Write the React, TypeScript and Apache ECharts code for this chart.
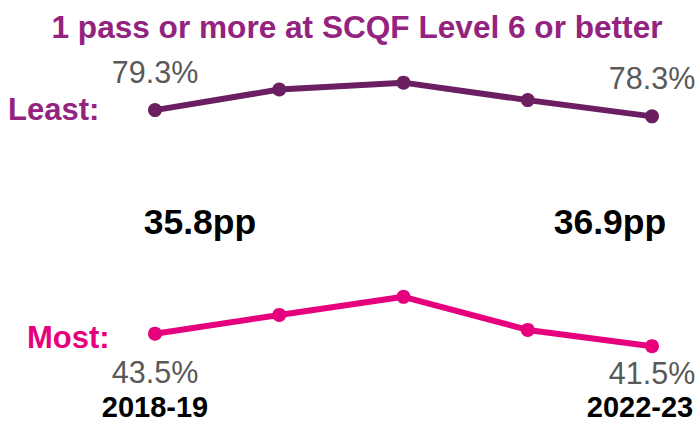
import React, { useEffect, useRef } from "react";
import * as echarts from "echarts";

const years = ["2018-19", "2019-20", "2020-21", "2021-22", "2022-23"];
const least = [79.3, 82.6, 83.7, 80.9, 78.3];
const most = [43.5, 46.5, 49.4, 44.1, 41.5];
const gapLabels = ["35.8pp", "36.9pp"];
const seriesNames = ["Least:", "Most:"];
const titleText = "1 pass or more at SCQF Level 6 or better";

const FONT = "'Liberation Sans', Arial, sans-serif";
const PURPLE_TEXT = "#93237F";
const PURPLE_LINE = "#6B1F62";
const PINK = "#E6007E";
const GREY = "#595959";

export default function App() {
  const ref = useRef<HTMLDivElement>(null);
  useEffect(() => {
    document.body.style.margin = "0";
    if (!ref.current) return;
    const chart = echarts.init(ref.current, null, { renderer: "svg" });
    const last = years.length - 1;
    const valueLabel = (pos: "top" | "bottom") => ({
      show: true,
      position: pos,
      distance: 16,
      color: GREY,
      fontFamily: FONT,
      fontSize: 30.5,
      formatter: (p: any) =>
        p.dataIndex === 0 || p.dataIndex === last ? p.value.toFixed(1) + "%" : "",
    });
    const mostData = most.map((v, i) =>
      i === last ? { value: v, label: { offset: [0, -12] } } : v
    );
    chart.setOption({
      animation: false,
      title: {
        text: titleText,
        left: 352,
        textAlign: "center",
        top: 6,
        textStyle: { color: PURPLE_TEXT, fontFamily: FONT, fontSize: 31.6, fontWeight: "bold" },
      },
      grid: { left: 155, right: 46, top: 30.8, bottom: 37.9, containLabel: false },
      xAxis: {
        type: "category",
        data: years,
        boundaryGap: false,
        axisLine: { show: false },
        axisTick: { show: false },
        splitLine: { show: false },
        axisLabel: {
          interval: (i: number) => i === 0 || i === last,
          margin: 11.5,
          formatter: (v: string, i: number) => (i === last ? `{r|${v}}` : `{c|${v}}`),
          rich: {
            c: { fontFamily: FONT, fontSize: 29, fontWeight: "bold", color: "#000" },
            r: { fontFamily: FONT, fontSize: 29, fontWeight: "bold", color: "#000", padding: [0, 24, 0, 0] },
          },
        },
      },
      yAxis: {
        type: "value",
        min: 36,
        max: 92,
        show: false,
        splitLine: { show: false },
      },
      series: [
        {
          name: "Least",
          type: "line",
          data: least,
          symbol: "circle",
          symbolSize: 14,
          itemStyle: { color: PURPLE_LINE },
          lineStyle: { color: PURPLE_LINE, width: 6 },
          label: valueLabel("top"),
        },
        {
          name: "Most",
          type: "line",
          data: mostData,
          symbol: "circle",
          symbolSize: 14,
          itemStyle: { color: PINK },
          lineStyle: { color: PINK, width: 6 },
          label: valueLabel("bottom"),
        },
      ],
      graphic: [
        {
          type: "text",
          x: 8,
          y: 94,
          style: { text: seriesNames[0], fill: PURPLE_TEXT, font: `bold 31px ${FONT}`, textVerticalAlign: "top" },
        },
        {
          type: "text",
          x: 27,
          y: 322,
          style: { text: seriesNames[1], fill: PINK, font: `bold 31px ${FONT}`, textVerticalAlign: "top" },
        },
        {
          type: "text",
          x: 200,
          y: 204,
          style: { text: gapLabels[0], fill: "#000", font: `bold 35.5px ${FONT}`, textAlign: "center", textVerticalAlign: "top" },
        },
        {
          type: "text",
          x: 610,
          y: 204,
          style: { text: gapLabels[1], fill: "#000", font: `bold 35.5px ${FONT}`, textAlign: "center", textVerticalAlign: "top" },
        },
      ],
    });
    return () => chart.dispose();
  }, []);
  return <div ref={ref} style={{ width: 698, height: 421, position: "absolute", left: 0, top: 0 }} />;
}
